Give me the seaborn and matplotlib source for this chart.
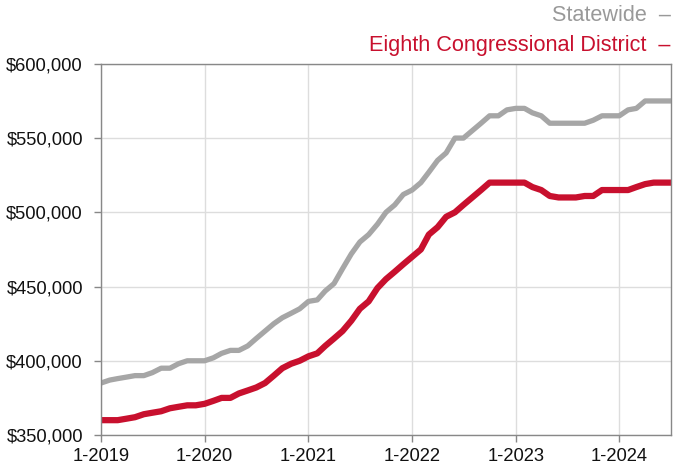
import pandas as pd
import numpy as np

import matplotlib.pyplot as plt
from matplotlib.ticker import FuncFormatter
import seaborn as sns

# monthly values, Jan 2019 - Jul 2024 (thousands of dollars)
statewide = [385, 387, 388, 389, 390, 390, 392, 395, 395, 398, 400, 400,
             400, 402, 405, 407, 407, 410, 415, 420, 425, 429, 432, 435,
             440, 441, 447, 452, 462, 472, 480, 485, 492, 500, 505, 512,
             515, 520, 527, 535, 540, 550, 550, 555, 560, 565, 565, 569,
             570, 570, 567, 565, 560, 560, 560, 560, 560, 562, 565, 565,
             565, 569, 570, 575, 575, 575, 575]
district = [360, 360, 360, 361, 362, 364, 365, 366, 368, 369, 370, 370,
            371, 373, 375, 375, 378, 380, 382, 385, 390, 395, 398, 400,
            403, 405, 410, 415, 420, 427, 435, 440, 449, 455, 460, 465,
            470, 475, 485, 490, 497, 500, 505, 510, 515, 520, 520, 520,
            520, 520, 517, 515, 511, 510, 510, 510, 511, 511, 515, 515,
            515, 515, 517, 519, 520, 520, 520]
months = pd.date_range("2019-01-01", periods=len(statewide), freq="MS")
tick_years = [2019, 2020, 2021, 2022, 2023, 2024]
tick_labels = ["1-%d" % y for y in tick_years]

df = pd.DataFrame({
    "month": list(months) * 2,
    "price": [v * 1000 for v in statewide + district],
    "area": ["Statewide"] * len(statewide) + ["Eighth Congressional District"] * len(district),
})

sns.set_style("white")
plt.rcParams["font.family"] = ["Liberation Sans", "DejaVu Sans"]

fig = plt.figure(figsize=(6.73, 4.66), dpi=100)
ax = fig.add_axes([0.150, 0.0665, 0.847, 0.7965])

sns.lineplot(data=df[df.area == "Statewide"], x="month", y="price",
             color="#a6a6a6", linewidth=3.8, ax=ax)
sns.lineplot(data=df[df.area != "Statewide"], x="month", y="price",
             color="#c8102e", linewidth=4.5, ax=ax)

ax.set_xlim(months[0], months[-1])
ax.set_ylim(350000, 600000)
ax.set_yticks(range(350000, 600001, 50000))
ax.yaxis.set_major_formatter(FuncFormatter(lambda v, p: "${:,.0f}".format(v)))
ax.set_xticks([pd.Timestamp(y, 1, 1) for y in tick_years])
ax.set_xticklabels(tick_labels)
ax.set_xlabel("")
ax.set_ylabel("")

ax.grid(True, color="#dddddd", linewidth=1)
ax.set_axisbelow(True)
for s in ax.spines.values():
    s.set_color("#888888")
    s.set_linewidth(1)
ax.tick_params(axis="both", length=5, width=1, color="#888888",
               labelsize=13.2, labelcolor="#111111")
ax.tick_params(axis="y", left=True, pad=8)
ax.tick_params(axis="x", bottom=True, pad=4)

fig.text(0.997, 0.967, "Statewide  \u2013", ha="right", va="center",
         fontsize=15.6, color="#999999")
fig.text(0.997, 0.903, "Eighth Congressional District  \u2013", ha="right", va="center",
         fontsize=15.6, color="#c8102e")

plt.savefig("out.png", dpi=100)
